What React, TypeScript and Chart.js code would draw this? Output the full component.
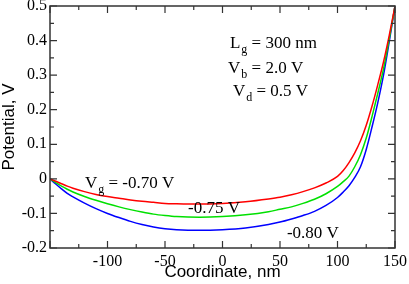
import React, { useEffect, useRef } from "react";
import { Chart, registerables } from "chart.js";

Chart.register(...registerables);

const coordinates = [-150, -145, -140, -135, -130, -120, -110, -100, -90, -80, -70, -60, -50, -40, -20, 0, 20, 40, 50, 60, 70, 80, 90, 100, 105, 110, 115, 120, 125, 130, 135, 140, 145, 150];
const vg070 = [0, -0.007, -0.014, -0.021, -0.027, -0.037, -0.045, -0.051, -0.056, -0.061, -0.065, -0.068, -0.071, -0.072, -0.073, -0.071, -0.066, -0.058, -0.053, -0.046, -0.037, -0.026, -0.012, 0.007, 0.024, 0.047, 0.075, 0.11, 0.155, 0.21, 0.272, 0.338, 0.415, 0.5];
const vg075 = [0, -0.011, -0.021, -0.03, -0.038, -0.051, -0.062, -0.072, -0.081, -0.089, -0.096, -0.102, -0.106, -0.109, -0.111, -0.109, -0.104, -0.095, -0.088, -0.081, -0.071, -0.059, -0.043, -0.022, -0.008, 0.008, 0.035, 0.07, 0.118, 0.18, 0.247, 0.318, 0.405, 0.5];
const vg080 = [0, -0.015, -0.029, -0.042, -0.052, -0.07, -0.086, -0.1, -0.112, -0.123, -0.132, -0.139, -0.144, -0.147, -0.149, -0.147, -0.142, -0.132, -0.125, -0.116, -0.106, -0.094, -0.077, -0.054, -0.038, -0.02, 0.004, 0.035, 0.085, 0.15, 0.22, 0.3, 0.397, 0.5];

const seriesColors = ["#ff0000", "#00e000", "#0000ff"];
const xTitle = "Coordinate, nm";
const yTitle = "Potential, V";

// annotation: [x, y, main, sub, rest]
const annotations: [number, number, string, string, string][] = [
  [-119.6, -0.026, "V", "g", " = -0.70 V"],
  [-30, -0.098, "-0.75 V", "", ""],
  [56, -0.171, "-0.80 V", "", ""],
  [6.5, 0.379, "L", "g", " = 300 nm"],
  [4.8, 0.307, "V", "b", " = 2.0 V"],
  [9.1, 0.24, "V", "d", " = 0.5 V"],
];

const SERIF = "'Liberation Serif', 'Times New Roman', serif";
const SANS = "'Liberation Sans', Arial, sans-serif";

const decorPlugin = {
  id: "decor",
  afterDraw(chart: any) {
    const ctx = chart.ctx;
    const { left, right, top, bottom } = chart.chartArea;
    const xs = chart.scales.x;
    const ys = chart.scales.y;
    ctx.save();
    // frame
    ctx.strokeStyle = "#333";
    ctx.lineWidth = 1.5;
    ctx.strokeRect(left, top, right - left, bottom - top);
    // ticks
    ctx.lineWidth = 1.2;
    ctx.beginPath();
    for (let v = -150; v <= 150; v += 25) {
      const px = xs.getPixelForValue(v);
      const len = v % 50 === 0 ? 7 : 4;
      ctx.moveTo(px, bottom);
      ctx.lineTo(px, bottom - len);
      ctx.moveTo(px, top);
      ctx.lineTo(px, top + len);
    }
    for (let i = -4; i <= 10; i++) {
      const v = i * 0.05;
      const py = ys.getPixelForValue(v);
      const len = i % 2 === 0 ? 7 : 4;
      ctx.moveTo(left, py);
      ctx.lineTo(left + len, py);
      ctx.moveTo(right, py);
      ctx.lineTo(right - len, py);
    }
    ctx.stroke();
    // axis titles
    ctx.fillStyle = "#000";
    ctx.font = `17px ${SANS}`;
    ctx.textAlign = "center";
    ctx.textBaseline = "alphabetic";
    ctx.fillText(xTitle, (left + right) / 2, 277);
    ctx.save();
    ctx.translate(14, (top + bottom) / 2);
    ctx.rotate(-Math.PI / 2);
    ctx.fillText(yTitle, 0, 0);
    ctx.restore();
    // annotations
    ctx.textAlign = "left";
    for (const [ax, ay, main, sub, rest] of annotations) {
      let px = xs.getPixelForValue(ax);
      const py = ys.getPixelForValue(ay);
      ctx.font = `17px ${SERIF}`;
      ctx.fillText(main, px, py);
      px += ctx.measureText(main).width;
      if (sub) {
        ctx.font = `12px ${SERIF}`;
        ctx.fillText(sub, px + 1, py + 5);
        px += ctx.measureText(sub).width + 1;
      }
      if (rest) {
        ctx.font = `17px ${SERIF}`;
        ctx.fillText(rest, px, py);
      }
    }
    ctx.restore();
  },
};

export default function App() {
  const ref = useRef<HTMLCanvasElement>(null);
  useEffect(() => {
    const mk = (ys: number[]) => coordinates.map((x, i) => ({ x, y: ys[i] }));
    const chart = new Chart(ref.current!, {
      type: "line",
      data: {
        datasets: [vg070, vg075, vg080].map((d, i) => ({
          data: mk(d),
          borderColor: seriesColors[i],
          borderWidth: 1.5,
          pointRadius: 0,
          fill: false,
          cubicInterpolationMode: "monotone" as const,
        })),
      },
      options: {
        responsive: false,
        animation: false,
        devicePixelRatio: 1,
        layout: { padding: { left: 0, right: 14, top: 6, bottom: 0 } },
        plugins: { legend: { display: false }, tooltip: { enabled: false } },
        scales: {
          x: {
            type: "linear",
            min: -150,
            max: 150,
            grid: { display: false, drawTicks: false },
            border: { display: false },
            ticks: {
              stepSize: 50,
              padding: 4,
              color: "#000",
              font: { family: SERIF, size: 16 },
              maxRotation: 0,
              callback: (v: any) => (Number(v) === -150 ? "" : String(Math.round(Number(v)))),
            },
            afterFit: (s: any) => {
              s.height = 36;
              s.paddingLeft = 0;
              s.paddingRight = 0;
            },
          },
          y: {
            type: "linear",
            min: -0.2,
            max: 0.5,
            grid: { display: false, drawTicks: false },
            border: { display: false },
            ticks: {
              stepSize: 0.1,
              padding: 3,
              color: "#000",
              font: { family: SERIF, size: 16 },
              callback: (v: any) => {
                const n = Math.round(Number(v) * 10) / 10;
                return n === 0 ? "0" : n.toFixed(1);
              },
            },
            afterFit: (s: any) => {
              s.width = 50;
              s.paddingTop = 0;
              s.paddingBottom = 0;
            },
          },
        },
      },
      plugins: [decorPlugin],
    });
    return () => chart.destroy();
  }, []);
  return (
    <div style={{ position: "absolute", left: 0, top: 0, width: 409, height: 284, background: "#fff" }}>
      <canvas ref={ref} width={409} height={284} />
    </div>
  );
}
